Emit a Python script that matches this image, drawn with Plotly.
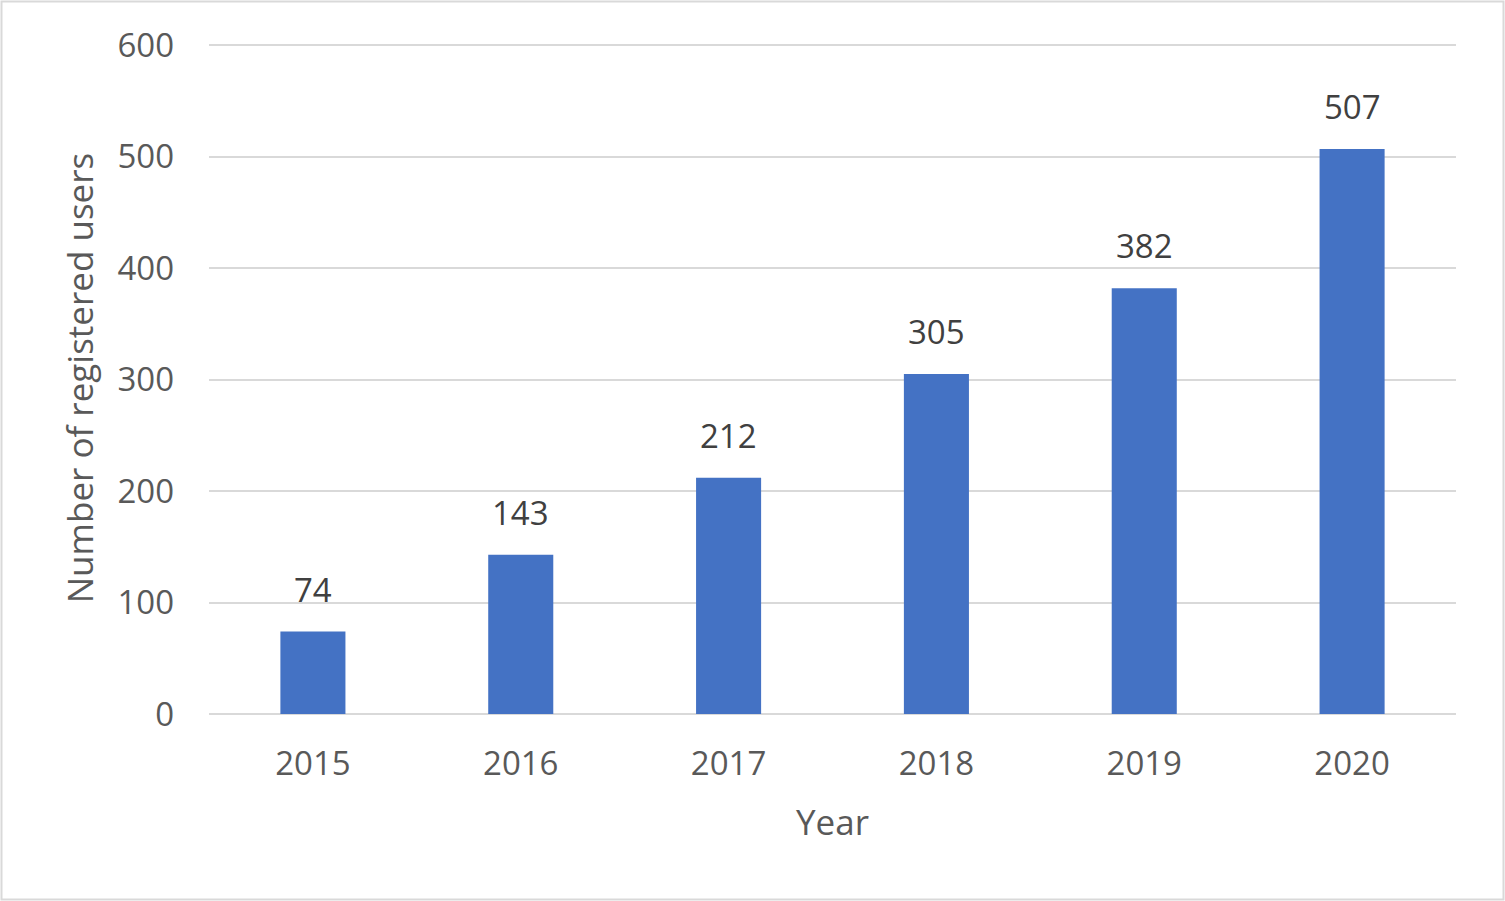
import plotly.graph_objects as go

years = ["2015", "2016", "2017", "2018", "2019", "2020"]
users = [74, 143, 212, 305, 382, 507]
y_ticks = [0, 100, 200, 300, 400, 500, 600]

W, H = 1505, 901
L, R, T, B = 209, 49, 42, 187
pw, ph = W - L - R, H - T - B

fig = go.Figure(go.Bar(
    x=years, y=users,
    marker=dict(color="#4472C4", line=dict(width=0)),
    cliponaxis=False,
))

# category axis: annotations use the serial number of each category
for i, v in enumerate(users):
    fig.add_annotation(
        x=i, y=v, xref="x", yref="y", text=str(v), showarrow=False,
        yanchor="bottom", yshift=18,
        font=dict(family="Open Sans", size=33, color="#404040"),
    )

fig.update_layout(
    width=W, height=H,
    margin=dict(l=L, r=R, t=T, b=B, pad=0),
    paper_bgcolor="white", plot_bgcolor="white",
    bargap=0.687,
    showlegend=False,
    hovermode=False,
    font=dict(family="Open Sans", color="#595959"),
    xaxis=dict(
        type="category",
        range=[-0.5, len(years) - 0.5],
        title=dict(text="Year", font=dict(size=35, color="#595959"), standoff=26),
        tickfont=dict(size=33, color="#595959"),
        showgrid=False, showline=False, zeroline=False,
        ticks="", ticklabelstandoff=27,
    ),
    yaxis=dict(
        title=dict(text="Number of registered users", font=dict(size=35, color="#595959"), standoff=13),
        tickfont=dict(size=33, color="#595959"),
        range=[0, 603], tickvals=y_ticks, ticktext=[str(v) for v in y_ticks],
        showgrid=True, gridcolor="#D9D9D9", gridwidth=2,
        zeroline=True, zerolinecolor="#D9D9D9", zerolinewidth=2,
        showline=False, ticks="", ticklabelstandoff=34,
    ),
    shapes=[dict(
        type="rect", xref="paper", yref="paper",
        x0=(1.5 - L) / pw, x1=(W - 1.5 - L) / pw,
        y0=(T + ph - (H - 1.5)) / ph, y1=(T + ph - 1.5) / ph,
        line=dict(color="#D9D9D9", width=2), fillcolor="rgba(0,0,0,0)",
        layer="below",
    )],
)

fig.write_html(
    "out.html",
    config={"displayModeBar": False},
    post_script="document.body.style.margin='0px';document.body.style.overflow='hidden';",
)
